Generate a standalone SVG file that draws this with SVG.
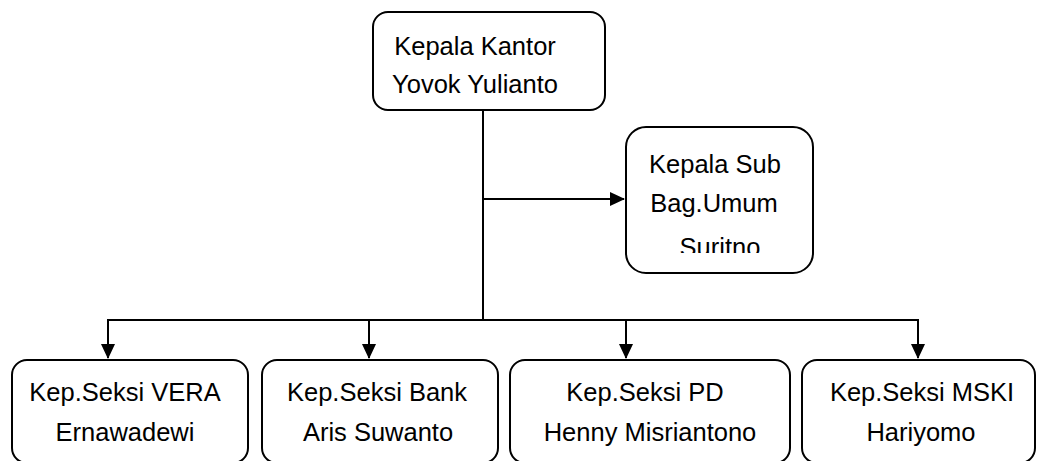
<svg xmlns="http://www.w3.org/2000/svg" width="1043" height="461" viewBox="0 0 1043 461">
<style>
.box{fill:#fff;stroke:#000;stroke-width:2}
.t{font-family:"Liberation Sans",Arial,sans-serif;font-size:25.5px;fill:#000;text-anchor:middle}
.ln{fill:none;stroke:#000;stroke-width:2}
</style>
<defs>
<marker id="ah" markerWidth="16" markerHeight="16" refX="14" refY="7" orient="auto" markerUnits="userSpaceOnUse">
<path d="M0,0 L15,7 L0,14 Z" fill="#000"/>
</marker>
<clipPath id="subclip"><rect x="626" y="127" width="187" height="126"/></clipPath>
</defs>
<g id="connectors">
<line class="ln" x1="483" y1="110" x2="483" y2="321"/>
<line class="ln" x1="483" y1="199" x2="624" y2="199" marker-end="url(#ah)"/>
<polyline class="ln" points="108,358 108,320 918,320 918,358" marker-end="url(#ah)"/>
<line class="ln" x1="108" y1="320" x2="108" y2="358" marker-end="url(#ah)"/>
<line class="ln" x1="369" y1="320" x2="369" y2="358" marker-end="url(#ah)"/>
<line class="ln" x1="626" y1="320" x2="626" y2="358" marker-end="url(#ah)"/>
</g>
<g id="kepala-kantor">
<rect class="box" x="373" y="12" width="232" height="98" rx="15"/>
<text class="t" x="475" y="55">Kepala Kantor</text>
<text class="t" x="475" y="93">Yovok Yulianto</text>
</g>
<g id="kepala-sub-bag">
<rect class="box" x="626" y="127" width="187" height="146" rx="20"/>
<g clip-path="url(#subclip)">
<text class="t" x="715" y="173">Kepala Sub</text>
<text class="t" x="714" y="212">Bag.Umum</text>
<text class="t" x="720" y="256">Suritno</text>
</g>
</g>
<g id="seksi-vera">
<rect class="box" x="12" y="360" width="236" height="103" rx="15"/>
<text class="t" x="125" y="401">Kep.Seksi VERA</text>
<text class="t" x="125" y="441">Ernawadewi</text>
</g>
<g id="seksi-bank">
<rect class="box" x="262" y="360" width="236" height="103" rx="15"/>
<text class="t" x="377" y="401">Kep.Seksi Bank</text>
<text class="t" x="378" y="441">Aris Suwanto</text>
</g>
<g id="seksi-pd">
<rect class="box" x="510" y="360" width="280" height="103" rx="15"/>
<text class="t" x="645" y="401">Kep.Seksi PD</text>
<text class="t" x="650" y="441">Henny Misriantono</text>
</g>
<g id="seksi-mski">
<rect class="box" x="802" y="360" width="233" height="103" rx="15"/>
<text class="t" x="922" y="401">Kep.Seksi MSKI</text>
<text class="t" x="921" y="441">Hariyomo</text>
</g>
</svg>
